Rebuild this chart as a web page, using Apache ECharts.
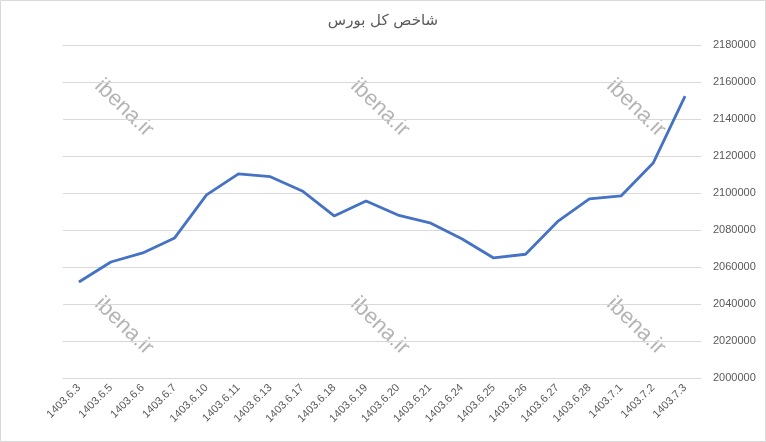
<!DOCTYPE html>
<html>
<head>
<meta charset="utf-8">
<script src="https://cdn.jsdelivr.net/npm/echarts@6/dist/echarts.min.js"></script>
<style>
  html, body { margin: 0; padding: 0; background: #fff; }
  #chart { width: 766px; height: 442px; }
</style>
</head>
<body>
<div id="chart"></div>
<script>
// روزهای معاملاتی
var dates = [
  "1403.6.3", "1403.6.5", "1403.6.6", "1403.6.7", "1403.6.10",
  "1403.6.11", "1403.6.13", "1403.6.17", "1403.6.18", "1403.6.19",
  "1403.6.20", "1403.6.21", "1403.6.24", "1403.6.25", "1403.6.26",
  "1403.6.27", "1403.6.28", "1403.7.1", "1403.7.2", "1403.7.3"
];
// شاخص کل
var indexValues = [
  2051900, 2062700, 2067600, 2075700, 2099000,
  2110300, 2108800, 2101100, 2087600, 2095700,
  2088100, 2083900, 2075300, 2064900, 2066900,
  2084500, 2096800, 2098500, 2116200, 2152400
];
var yMin = 2000000;
var yMax = 2180000;
var yStep = 20000;

var watermarkSpots = [[124, 108], [380, 108], [636, 108], [124, 326], [380, 326], [636, 326]];

var myChart = echarts.init(document.getElementById("chart"));

var graphics = watermarkSpots.map(function (p) {
  return {
    type: "text",
    x: p[0],
    y: p[1],
    rotation: -Math.PI / 4.1,
    silent: true,
    z: 0,
    style: {
      text: "ibena.ir",
      fill: "#b4b4b4",
      font: "22px 'Liberation Sans', Arial, sans-serif",
      align: "center",
      verticalAlign: "middle"
    }
  };
});
// frame around the whole chart
graphics.push({
  type: "rect",
  shape: { x: 0.5, y: 0.5, width: 765, height: 441 },
  silent: true,
  style: { fill: "none", stroke: "#d9d9d9", lineWidth: 1 }
});

myChart.setOption({
  animation: false,
  title: {
    text: "شاخص کل بورس",
    left: "center",
    top: 9,
    textStyle: {
      color: "#595959",
      fontSize: 15,
      fontWeight: "normal",
      fontFamily: "'DejaVu Sans', sans-serif"
    }
  },
  grid: {
    left: 63,
    right: 65,
    top: 45,
    bottom: 64
  },
  graphic: graphics,
  xAxis: {
    type: "category",
    data: dates,
    boundaryGap: true,
    axisLine: { show: false },
    axisTick: { show: false },
    axisLabel: {
      rotate: 45,
      margin: 8,
      interval: 0,
      color: "#595959",
      fontSize: 11,
      fontFamily: "'Liberation Sans', Arial, sans-serif"
    }
  },
  yAxis: {
    type: "value",
    position: "right",
    min: yMin,
    max: yMax,
    interval: yStep,
    axisLine: { show: false },
    axisTick: { show: false },
    axisLabel: {
      margin: 12,
      color: "#595959",
      fontSize: 11,
      fontFamily: "'Liberation Sans', Arial, sans-serif",
      formatter: function (v) { return String(v); }
    },
    splitLine: {
      lineStyle: { color: "#d9d9d9", width: 1 }
    }
  },
  series: [
    {
      type: "line",
      data: indexValues,
      symbol: "none",
      z: 5,
      lineStyle: { color: "#4472C4", width: 2.8 },
      itemStyle: { color: "#4472C4" }
    }
  ]
});
</script>
</body>
</html>
